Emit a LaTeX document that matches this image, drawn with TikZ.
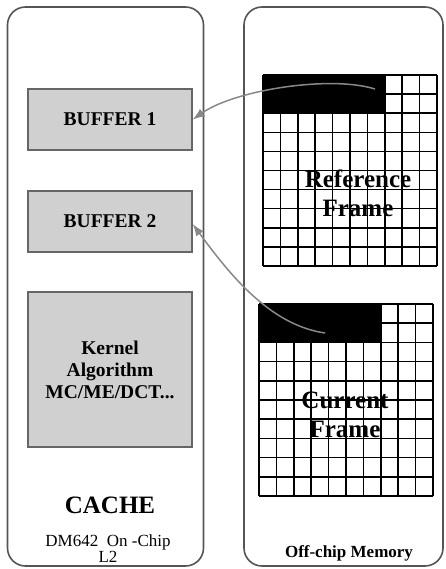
\documentclass[tikz,border=0pt]{standalone}
\usepackage{fontspec}
\setmainfont{Liberation Serif}
\usetikzlibrary{arrows.meta}
\definecolor{panelgray}{HTML}{555555}
\definecolor{boxfill}{HTML}{D0D0D0}
\definecolor{boxline}{HTML}{666666}
\definecolor{arrowgray}{HTML}{888888}
\begin{document}
\begin{tikzpicture}[x=1pt,y=-1pt,
  panel/.style={draw=panelgray,line width=1.6pt,rounded corners=18pt,inner sep=0pt},
  box/.style={draw=boxline,fill=boxfill,line width=1.4pt,inner sep=0pt,align=center,
    font=\bfseries\fontsize{19.5}{22}\selectfont},
  gridline/.style={line width=1.5pt,black},
  block/.style={fill=black,inner sep=0pt,minimum width=121.8pt,minimum height=38.2pt},
  flow/.style={draw=arrowgray,line width=1.5pt,-{Latex[length=12pt,width=9pt]}},
  framelabel/.style={font=\bfseries\fontsize{25}{29}\selectfont,align=center,inner sep=0pt}]
\useasboundingbox (0,0) rectangle (446,569);
\fill[white] (0,0) rectangle (446,569);
% panels
\node[panel,minimum width=196pt,minimum height=559pt] (cache) at (105.5,286.5) {};
\node[panel,minimum width=199pt,minimum height=559pt] (mem) at (343.5,286.5) {};
% boxes
\node[box,minimum width=164pt,minimum height=61pt] (buf1) at (110,119.5) {BUFFER 1};
\node[box,minimum width=164pt,minimum height=61pt] (buf2) at (110,221.5) {BUFFER 2};
\node[box,minimum width=164pt,minimum height=155pt] (kernel) at (110,369.5) {Kernel\\Algorithm\\MC/ME/DCT...};
% reference frame grid
\node[block] (refblock) at (323.9,94.1) {};
\foreach \i in {0,...,10} {
  \draw[gridline] ({263+\i*17.4},75) -- ({263+\i*17.4},266);
  \draw[gridline] (263,{75+\i*19.1}) -- (437,{75+\i*19.1});
}
% current frame grid
\node[block] (curblock) at (319.9,323.1) {};
\foreach \i in {0,...,10} {
  \draw[gridline] ({259+\i*17.4},304) -- ({259+\i*17.4},496);
  \draw[gridline] (259,{304+\i*19.2}) -- (433,{304+\i*19.2});
}
% labels
\node[framelabel] (reflabel) at (358,193) {Reference\\Frame};
\node[framelabel] (curlabel) at (345,415) {Current\\Frame};
\node[font=\bfseries\fontsize{25}{28}\selectfont,anchor=base,inner sep=0pt] (cachelabel) at (110,513) {CACHE};
\node[font=\fontsize{17}{16}\selectfont,anchor=base,inner sep=0pt] (chiplabel) at (108,546) {DM642\ \ On -Chip};
\node[font=\fontsize{17}{16}\selectfont,anchor=base,inner sep=0pt] (l2label) at (108,562) {L2};
\node[font=\bfseries\fontsize{17}{20}\selectfont,anchor=base,inner sep=0pt] (memlabel) at (349,557) {Off-chip Memory};
% arrows
\coordinate (refsrc) at (375,89);
\coordinate (cursrc) at (325,333);
\draw[flow] (refsrc) .. controls (330,75) and (235,90) .. (buf1.east);
\draw[flow] (cursrc) .. controls (270,325) and (230,275) .. ([yshift=-2.5pt]buf2.east);
\end{tikzpicture}
\end{document}
